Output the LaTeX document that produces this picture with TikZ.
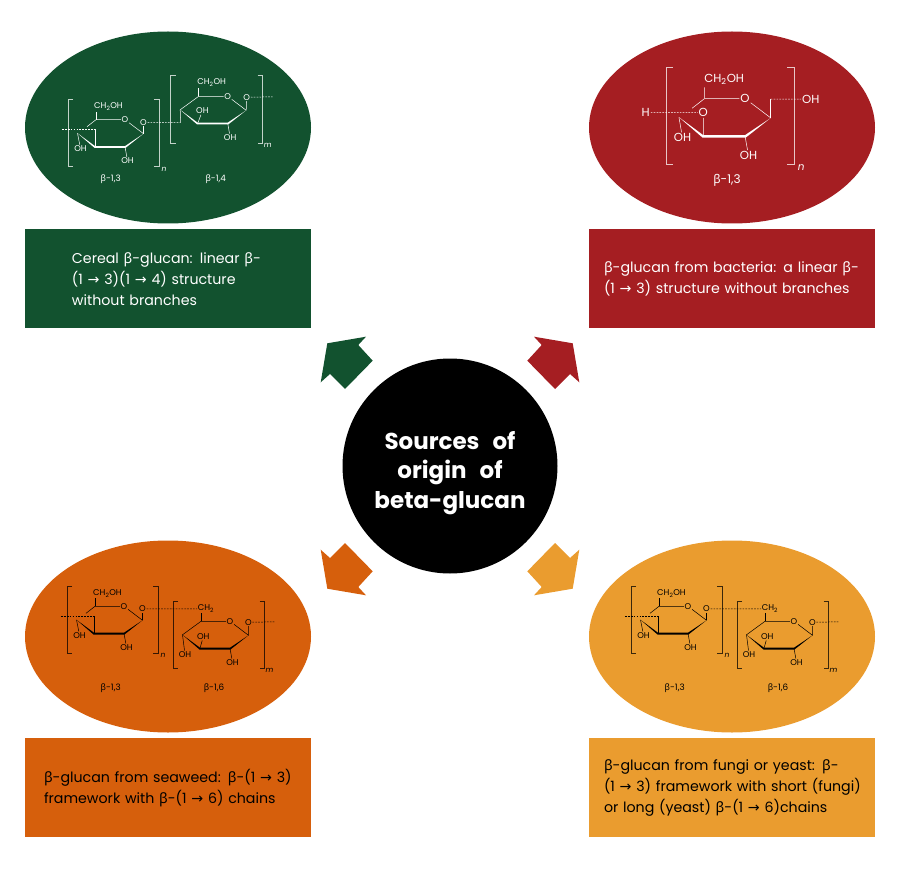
\documentclass[tikz,border=0pt]{standalone}
\usepackage{fontspec}
\setmainfont{Poppins}
\newfontfamily\greekfont{Noto Sans}
\newfontfamily\arrowfont{DejaVu Sans}
\usetikzlibrary{positioning,shapes.geometric}
\definecolor{cerealgreen}{HTML}{12522F}
\definecolor{bactred}{HTML}{A51E22}
\definecolor{seaorange}{HTML}{D65F0C}
\definecolor{fungiyellow}{HTML}{EA9C2F}
\newcommand{\bet}{{\greekfont β}}
\newcommand{\tow}{{\arrowfont →}}
\newcommand{\sugarcore}{
\coordinate (-c3) at (0,0);
\coordinate (-c2) at (30,0);
\coordinate (-c1) at (48.5,-13);
\coordinate (-c4) at (-17.5,-13.5);
\coordinate (-c5) at (1,-27);
\node[molab] (-o) at (30,-27) {O};
\node[molab] (-oh2) at (32.5,14) {OH};
\fill (-c4) -- (-.5,1.2) -- (30.5,1.2) -- (-c1) -- (30,-.6) -- (0,-.6) -- cycle;
\draw[bond] (-c5) -- (-o) -- (-c1);
\draw[bond] (-c2) -- (-oh2);
\draw[bond] (-c5) -- (1,-35);
}
\newcommand{\sugarbrackets}[4]{
\draw[bracket] (-22,#2) -- (-27,#2) -- (-27,#3) -- (-22,#3);
\draw[bracket] (#1-5,#2) -- (#1,#2) -- (#1,#3) -- (#1-5,#3);
\node[molab,font=\fontsize{7.5}{7.5}\itshape] at (#1+5,#3+2.5) {#4};
}
\tikzset{
bond/.style={line width=.5pt},
bracket/.style={line width=.5pt,draw opacity=.75},
link/.style={line width=.5pt,dash pattern=on 1.7pt off 1.2pt},
molab/.style={inner sep=.6pt,transform shape,font=\fontsize{8.4}{8.4}\selectfont},
linkname/.style={inner sep=0pt,font=\fontsize{8.8}{8.8}\selectfont},
% unit with its 1,3 bond at the ring's back
threeunit/.pic={
\sugarcore
\node[molab] (-ch) at (13.5,-40) {CH\textsubscript{2}OH};
\node[molab] (-oh4) at (-14.5,1.8) {OH};
\coordinate (-in) at (0,-17.2);
\draw[bond] (-c4) -- (-oh4);
\draw[bond] (-c5) -- (-8,-20);
\draw[bond] (-in) -- (-c3);
\sugarbrackets{64}{-47.5}{20}{n}
},
openlink/.pic={
\coordinate (-start) at (-33,-17.2);
\coordinate (-in) at (0,-17.2);
\coordinate (-c1) at (48.5,-13);
\node[molab] (-out) at (48.5,-24.3) {O};
\draw[bond] (-c1) -- (-out);
\draw[link] (-start) -- (-in);
},
% 1,4 unit of the cereal chain
fourunit/.pic={
\sugarcore
\node[molab] (-ch) at (14,-40.5) {CH\textsubscript{2}OH};
\node[molab] (-oh3) at (4.7,-12.3) {OH};
\node[molab] (-out) at (49,-26) {O};
\coordinate (-down) at (-17,-.7);
\coordinate (-end) at (75,-26.5);
\draw[bond] (-c5) -- (-c4) -- (-down);
\draw[bond] (-c3) -- (-oh3);
\draw[bond] (-c1) -- (-out);
\draw[link] (-out) -- (-end);
\sugarbrackets{65}{-48}{19.5}{m}
},
% 1,6 unit of the fungal and seaweed chains
sixunit/.pic={
\sugarcore
\node[molab] (-ch) at (6,-39.5) {CH\textsubscript{2}};
\node[molab] (-oh3) at (3.3,-11.7) {OH};
\node[molab] (-oh4) at (-15,6) {OH};
\node[molab] (-out) at (48.3,-26) {O};
\coordinate (-end) at (75,-26.5);
\draw[bond] (-c5) -- (-c4) -- (-oh4);
\draw[bond] (-c3) -- (-oh3);
\draw[bond] (-c1) -- (-out);
\draw[link] (-out) -- (-end);
\sugarbrackets{64.5}{-47.5}{20}{m}
},
% large bacterial unit, no chain beside it
bactunit/.pic={
\sugarcore
\node[molab] (-ch) at (15,-40.5) {CH\textsubscript{2}OH};
\node[molab] (-oh4) at (-15,1.2) {OH};
\node[molab] (-in) at (0,-16.8) {O};
\node[molab] (-h) at (-41.5,-16.8) {H};
\node[molab] (-oh1) at (77.3,-26.5) {OH};
\coordinate (-up) at (48.5,-26.5);
\draw[bond] (-c4) -- (-oh4);
\draw[bond] (-c5) -- (-8,-20);
\draw[bond] (-in) -- (-c3);
\draw[bond] (-c1) -- (-up);
\draw[link] (-h) -- (-in);
\draw[link] (-up) -- (-oh1);
\sugarbrackets{65.5}{-49.5}{20}{n}
},
blockarrow/.pic={
\fill (-122.7,-122.7) -- (-84,-129.3) -- (-91.7,-121) -- (-77.3,-105.3) -- (-105,-77) -- (-120,-92) -- (-129.3,-83.7) -- cycle;
},
}
\begin{document}
\begin{tikzpicture}[x=1pt,y=-1pt,
oval/.style={ellipse,minimum width=286pt,minimum height=192pt,inner sep=0pt},
box/.style={minimum height=99pt,inner sep=0pt,text width=286pt,align=left,execute at begin node={\leftskip=#1},font=\fontsize{14.2}{21}\selectfont},
box/.default=17pt]
\useasboundingbox (0,0) rectangle (900,869);
% ovals and their captions
\node[oval,fill=cerealgreen] (cereal) at (168,127.5) {};
\node[box=47pt,fill=cerealgreen,text=white,below=5.5pt of cereal] (cerealtext) {Cereal \bet-glucan: linear \bet-\\(1 \tow{} 3)(1 \tow{} 4) structure\\without branches};
\node[oval,fill=bactred] (bact) at (732,127.5) {};
\node[box=15pt,fill=bactred,text=white,below=5.5pt of bact] (bacttext) {\bet-glucan from bacteria: a linear \bet-\\(1 \tow{} 3) structure without branches};
\node[oval,fill=seaorange] (sea) at (168,636.5) {};
\node[box=19pt,fill=seaorange,below=5.5pt of sea] (seatext) {\bet-glucan from seaweed: \bet-(1 \tow{} 3)\\framework with \bet-(1 \tow{} 6) chains};
\node[oval,fill=fungiyellow] (fungi) at (732,636.5) {};
\node[box=15pt,fill=fungiyellow,below=5.5pt of fungi] (fungitext) {\bet-glucan from fungi or yeast: \bet-\\(1 \tow{} 3) framework with short (fungi)\\or long (yeast) \bet-(1 \tow{} 6)chains};
% centre
\node[circle,fill=black,text=white,minimum size=215pt,inner sep=0pt,align=center,execute at begin node={\spaceskip=13pt},font=\bfseries\fontsize{23}{29.5}\selectfont] (origin) at (450,466) {\rule{0pt}{32pt}Sources of\\origin of\\beta-glucan};
\pic[color=cerealgreen] at (origin.center) {blockarrow};
\pic[color=bactred,xscale=-1] at (origin.center) {blockarrow};
\pic[color=seaorange,yscale=-1] at (origin.center) {blockarrow};
\pic[color=fungiyellow,xscale=-1,yscale=-1] at (origin.center) {blockarrow};
% cereal chain
\begin{scope}[color=white]
\pic (gl) at (95,146.7) {threeunit};
\pic (gm) at (95,146.7) {openlink};
\pic (gr) at (197.7,123.3) {fourunit};
\draw[link] (gm-out) -- (gr-down);
\node[linkname] at (110.7,178.7) {\bet-1,3};
\node[linkname] at (215.7,178.7) {\bet-1,4};
\pic[scale=1.39] (br) at (703.3,136) {bactunit};
\node[linkname,font=\fontsize{12}{12}\selectfont] at (727,180.5) {\bet-1,3};
\end{scope}
% seaweed and fungal chains
\foreach \dx/\nm in {0/s,564/f}{
\begin{scope}[xshift=\dx pt]
\pic (\nm l) at (94,633.3) {threeunit};
\pic (\nm m) at (94,633.3) {openlink};
\pic (\nm r) at (200,648.3) {sixunit};
\draw[link] (\nm m-out) -- (\nm r-ch);
\node[linkname] at (110.7,687.7) {\bet-1,3};
\node[linkname] at (214,687.7) {\bet-1,6};
\end{scope}
}
\end{tikzpicture}
\end{document}
